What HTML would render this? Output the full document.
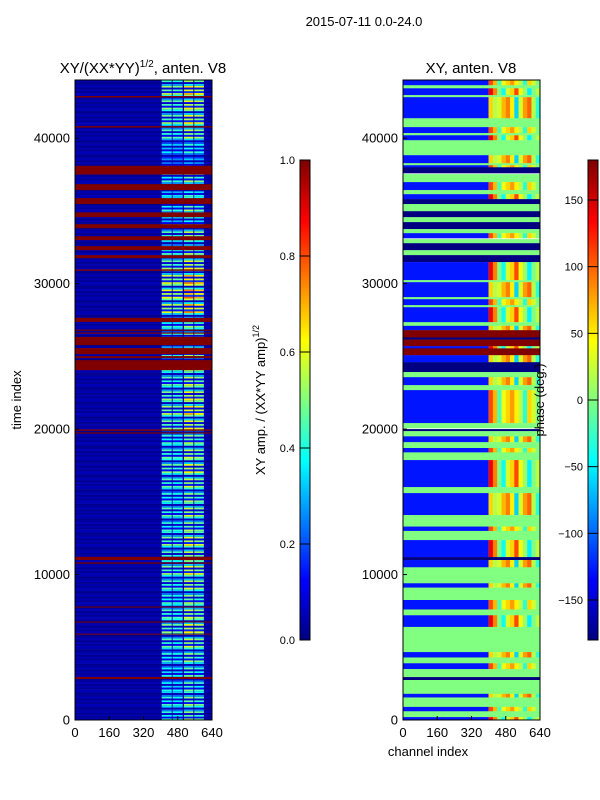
<!DOCTYPE html>
<html><head><meta charset="utf-8"><style>
html,body{margin:0;padding:0;background:#fff;}
svg{display:block;font-family:"Liberation Sans",sans-serif;}
</style></head><body>
<svg id="fig" width="600" height="800" viewBox="0 0 600 800" xmlns="http://www.w3.org/2000/svg">
<rect width="600" height="800" fill="#fff"/>
<text x="364" y="26" font-size="13" text-anchor="middle">2015-07-11 0.0-24.0</text>
<text x="143" y="73" font-size="15" text-anchor="middle">XY/(XX*YY)<tspan font-size="10" dy="-6">1/2</tspan><tspan dy="6">, anten. V8</tspan></text>
<text x="471" y="73" font-size="15" text-anchor="middle">XY, anten. V8</text>
<g id="left"></g>
<g id="right"></g>
<g id="axes"></g>
<text transform="translate(21,400) rotate(-90)" font-size="13" text-anchor="middle">time index</text>
<text x="428" y="756" font-size="13" text-anchor="middle">channel index</text>
<text transform="translate(265,400) rotate(-90)" font-size="13" text-anchor="middle">XY amp. / (XX*YY amp)<tspan font-size="9" dy="-6">1/2</tspan></text>
<text transform="translate(544,400) rotate(-90)" font-size="13" text-anchor="middle">phase (deg.)</text>
</svg>
<script>
// ---- data ----
const tMax = 44000;
const xTicks = [0,160,320,480,640];
const yTicks = [0,10000,20000,30000,40000];
const ampTicks = [0.0,0.2,0.4,0.6,0.8,1.0];
const phaseTicks = [-150,-100,-50,0,50,100,150];
// left: saturated (flagged) time bands
const leftRedBands = [[42800,42900],[40730,40830],[37500,38100],[36430,36840],[35470,35880],[34570,34900],[33810,34090],[32990,33260],[32300,32580],[31750,31960],[30880,30980],[27370,27650],[26760,26840],[26560,26640],[25770,26340],[25150,25570],[24880,25020],[24050,24740],[19880,19980],[19690,19770],[11000,11220],[10750,10830],[7730,7800],[6700,6770],[5870,5940],[2820,2960]];
// left: activity level per 1000-time bin in active channel region
const leftActivity = [0.5,0.5,0.45,0.45,0.5,0.55,0.6,0.55,0.5,0.55,0.6,0.55,0.6,0.5,0.55,0.5,0.55,0.6,0.55,0.5,0.6,0.65,0.6,0.55,0.5,0.5,0.5,0.5,0.7,0.75,0.7,0.6,0.5,0.55,0.4,0.5,0.4,0.5,0.3,0.4,0.55,0.6,0.6,0.65];
const leftGroups = [[405,452],[456,503],[509,553],[557,602]];
const leftGroupWeight = [0.8,0.75,1.0,0.9];
const stripePattern = [1,0.2,0.85,0.1,0.95,0.5,0.05,0.75];
// right: bands [start,end,type]  g=zero phase, b=-180, r=+180, n=noisy
const rightBands = [[43640,44000,'n'],[43430,43640,'g'],[42960,43430,'n'],[42820,42960,'g'],[41370,42820,'n'],[40760,41370,'g'],[40350,40760,'n'],[40200,40350,'g'],[39860,40200,'n'],[38830,39860,'g'],[38280,38830,'n'],[38140,38280,'g'],[38000,38140,'n'],[37600,38000,'b'],[36980,37530,'g'],[36430,36980,'n'],[36150,36430,'g'],[35810,36150,'n'],[35470,35810,'b'],[34980,35470,'g'],[34570,34980,'b'],[34230,34570,'g'],[33750,34230,'b'],[33470,33750,'g'],[33130,33470,'n'],[32780,33060,'g'],[32300,32780,'b'],[31960,32300,'g'],[31480,31960,'b'],[30240,31480,'n'],[30100,30240,'g'],[29070,30100,'n'],[28930,29070,'g'],[28520,28930,'n'],[28380,28520,'g'],[27350,28380,'n'],[27100,27350,'g'],[26800,27100,'n'],[26300,26800,'r'],[26150,26300,'b'],[25700,26150,'r'],[25550,25700,'n'],[25080,25550,'r'],[24600,25080,'n'],[23920,24600,'b'],[23570,23920,'g'],[23020,23570,'n'],[22680,23020,'g'],[20410,22680,'n'],[20070,20410,'g'],[19860,20000,'b'],[19500,19860,'g'],[19100,19500,'n'],[18700,19100,'g'],[18400,18700,'n'],[17870,18400,'g'],[16010,17870,'n'],[15600,16010,'g'],[14090,15600,'n'],[13300,14090,'g'],[13000,13300,'n'],[12370,13000,'g'],[11200,12370,'n'],[11000,11200,'b'],[10500,11000,'n'],[10100,10500,'g'],[9400,10100,'g'],[9100,9400,'n'],[8250,9100,'g'],[7600,8250,'n'],[7200,7600,'g'],[6400,7200,'n'],[4670,6400,'g'],[4300,4670,'n'],[3900,4300,'g'],[3500,3900,'n'],[2950,3500,'g'],[2750,2950,'b'],[1800,2750,'g'],[1550,1800,'n'],[900,1550,'g'],[600,900,'n'],[200,600,'g'],[0,200,'n']];
// right: phase (deg) per 20-channel cell in active region 400-640, alternating variants
const rightActiveA = [110,70,-20,40,60,80,50,20,-30,60,30,0];
const rightActiveB = [60,20,30,70,90,50,-60,30,80,100,20,-30];
const rightActiveC = [140,90,0,-40,30,60,110,40,10,-50,0,20];
const rightQuietPhase = -128;

// ---- helpers ----
const NS='http://www.w3.org/2000/svg';
function jet(v){v=Math.max(0,Math.min(1,v));
 const f=(a)=>Math.max(0,Math.min(1,a));
 const r=f(1.5-Math.abs(4*v-3)), g=f(1.5-Math.abs(4*v-2)), b=f(1.5-Math.abs(4*v-1));
 return 'rgb('+Math.round(r*255)+','+Math.round(g*255)+','+Math.round(b*255)+')';}
const P={L:{x0:75,x1:212},R:{x0:403,x1:540},y0:720,y1:80};
function yS(t){return P.y0-(t/tMax)*(P.y0-P.y1);}
function xS(p,c){return p.x0+(c/640)*(p.x1-p.x0);}
function rect(g,x,y,w,h,fill){const r=document.createElementNS(NS,'rect');
 r.setAttribute('x',x);r.setAttribute('y',y);r.setAttribute('width',w);r.setAttribute('height',h);r.setAttribute('fill',fill);g.appendChild(r);return r;}
function txt(g,x,y,s,size,anchor){const t=document.createElementNS(NS,'text');
 t.setAttribute('x',x);t.setAttribute('y',y);t.setAttribute('font-size',size);t.setAttribute('text-anchor',anchor);t.textContent=s;g.appendChild(t);return t;}

// ---- left heatmap ----
const L=document.getElementById('left');
const sub=1000/stripePattern.length;
leftActivity.forEach((a,i)=>{
 stripePattern.forEach((s,k)=>{
  const t0=i*1000+k*sub, t1=t0+sub;
  const y=yS(t1), h=yS(t0)-yS(t1)+0.3;
  const base=rect(L,P.L.x0,y,P.L.x1-P.L.x0,h,jet(0.01+0.045*s));
  
  
  leftGroups.forEach((gr,j)=>{
   const v=Math.min(0.95,0.04+a*s*leftGroupWeight[j]);
   const c=rect(L,xS(P.L,gr[0]),y,xS(P.L,gr[1])-xS(P.L,gr[0]),h,jet(v));
   
   
  });
 });
});
leftRedBands.forEach(b=>{
 const r=rect(L,P.L.x0,yS(b[1]),P.L.x1-P.L.x0,Math.max(1,yS(b[0])-yS(b[1])),jet(1));
 
 
});

// ---- right heatmap ----
const R=document.getElementById('right');
function ph(d){return (d+180)/360;}
const variants=[rightActiveA,rightActiveB,rightActiveC];
rightBands.forEach((b,i)=>{
 const y=yS(b[1]), h=Math.max(0.8,yS(b[0])-yS(b[1]))+0.2;
 const w=P.R.x1-P.R.x0;
 let r;
 if(b[2]==='g'){r=rect(R,P.R.x0,y,w,h,jet(ph(0)));}
 else if(b[2]==='b'){r=rect(R,P.R.x0,y,w,h,jet(0));}
 else if(b[2]==='r'){r=rect(R,P.R.x0,y,w,h,jet(1));}
 else{
  r=rect(R,P.R.x0,y,xS(P.R,400)-P.R.x0,h,jet(ph(rightQuietPhase)));
  const arr=variants[i%3];
  arr.forEach((d,j)=>{
   const c=rect(R,xS(P.R,400+j*20),y,xS(P.R,420)-xS(P.R,400)+0.2,h,jet(ph(d)));
   
   
  });
 }
 
 
});

// ---- axes ----
const A=document.getElementById('axes');
[P.L,P.R].forEach((p,pi)=>{
 const f=rect(A,p.x0,P.y1,p.x1-p.x0,P.y0-P.y1,'none');
 f.setAttribute('stroke','#000');f.setAttribute('stroke-width','1');
 
 
 yTicks.forEach(t=>{
  const y=yS(t);
  const tk=rect(A,p.x0,y-0.5,4,1,'#000');
  
  
  const lb=txt(A,p.x0-5,y+4.5,String(t),13,'end');
  
  
 });
 xTicks.forEach(c=>{
  const x=xS(p,c);
  const tk=rect(A,x-0.5,P.y0-4,1,4,'#000');
  
  
  const lb=txt(A,x,P.y0+17,String(c),13,'middle');
  
  
 });
});
// colorbars
function colorbar(x,vals,toFrac,name,fmt){
 for(let k=0;k<240;k++){
  const r=rect(A,x,160+k*2,10,2.2,jet(1-k/240));
  
  
 }
 const f=rect(A,x,160,10,480,'none');f.setAttribute('stroke','#000');
 
 
 vals.forEach(v=>{
  const y=640-toFrac(v)*480;
  const tk=rect(A,x,y-0.5,10,1,'#000');
  
  
  const lb=txt(A,x-5,y+4,fmt(v),11,'end');
  
  
 });
}
colorbar(300,ampTicks,v=>v,'amp-colorbar',v=>v.toFixed(1));
colorbar(588,phaseTicks,v=>(v+180)/360,'phase-colorbar',v=>String(v).replace('-','\u2212'));
</script>
</body></html>
